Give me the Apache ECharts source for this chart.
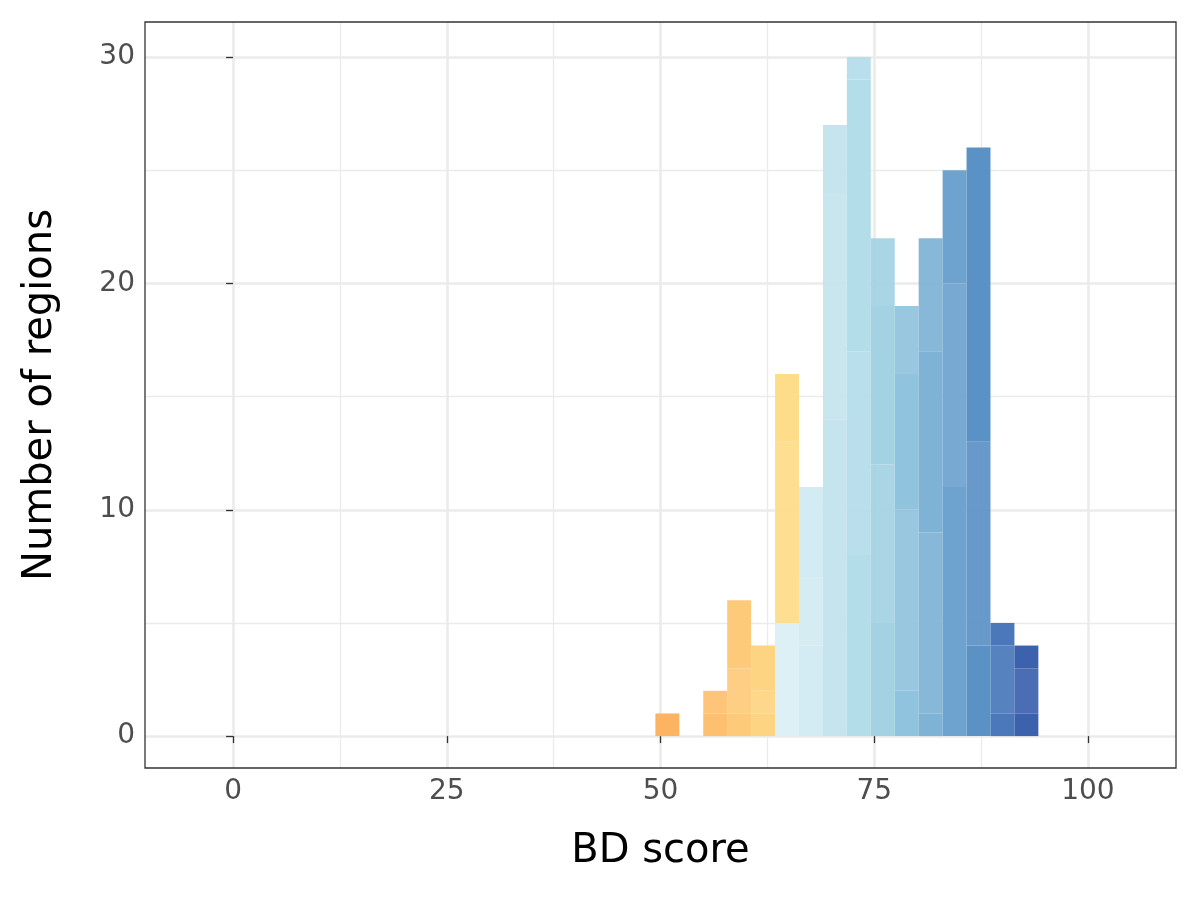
<!DOCTYPE html>
<html><head><meta charset="utf-8">
<script src="https://cdn.jsdelivr.net/npm/echarts@6/dist/echarts.min.js"></script>
<style>html,body{margin:0;background:#fff}#c{width:1200px;height:900px}</style>
</head><body><div id="c"></div>
<script>
// bins of width 2.8, stacked per-region segments (boundaries)
let binStart = [49.4, 55.0, 57.8, 60.6, 63.4, 66.2, 69.0, 71.8, 74.6, 77.4, 80.2, 83.0, 85.8, 88.6, 91.4];
let binWidth = 2.8;
let segTops = [
  [1],[1,2],[1,3,6],[1,2,4],[5,13,16],[4,7,11],[14,24,27],[8,17,29,30],
  [5,12,19,22],[2,10,16,19],[1,9,17,22],[11,20,25],[4,13,26],[1,4,5],[1,3,4]
];
let binColors = ['#fdb462','#fdc070','#fdca7a','#fdd482',['#ddf0f5','#fedd8a','#fedd8a'],'#d3ebf2','#c5e4ee','#b3dde9',
  '#a3d2e2','#90c3dd','#7fb3d5','#6ea3cf','#5b92c6','#4a78bb','#3d62ad'];
let xTicks = [0, 25, 50, 75, 100];
let yTicks = [0, 10, 20, 30];

let rects = [];
binStart.forEach((x0, i) => {
  let prev = 0;
  segTops[i].forEach((t, j) => {
    let c = Array.isArray(binColors[i]) ? binColors[i][j] : binColors[i];
    rects.push([x0, x0 + binWidth, prev, t, c, j]);
    prev = t;
  });
});
let gl = (v, w) => ({lineStyle: {color: '#ebebeb', width: w, type: 'solid'}, label: {show: false}, symbol: 'none', ...v});
let xLines = [], yLines = [];
for (let v = 0; v <= 100; v += 12.5) xLines.push(gl({xAxis: v}, v % 25 ? 1.3 : 2.6));
for (let v = 0; v <= 30; v += 5) yLines.push(gl({yAxis: v}, v % 10 ? 1.3 : 2.6));

let font = 'DejaVu Sans';
let chart = echarts.init(document.getElementById('c'));
chart.setOption({
  animation: false,
  grid: {left: 145, right: 24, top: 22, bottom: 132, show: true, borderColor: '#333', borderWidth: 1.3, z: 10},
  xAxis: {type: 'value', min: -10.3, max: 110.3, splitLine: {show: false},
    name: 'BD score', nameLocation: 'middle', nameGap: 64, nameTextStyle: {fontSize: 40, color: '#000', fontFamily: font},
    axisLine: {show: false},
    axisTick: {customValues: xTicks, length: 7, lineStyle: {color: '#333', width: 1.3}},
    axisLabel: {customValues: xTicks, fontSize: 28, color: '#4d4d4d', margin: 10, fontFamily: font}},
  yAxis: {type: 'value', min: -1.41, max: 31.55, splitLine: {show: false},
    name: 'Number of regions', nameLocation: 'middle', nameGap: 84, nameTextStyle: {fontSize: 40, color: '#000', fontFamily: font},
    axisLine: {show: false},
    axisTick: {show: true, customValues: yTicks, length: 7, lineStyle: {color: '#333', width: 1.3}},
    axisLabel: {customValues: yTicks, fontSize: 28, color: '#4d4d4d', margin: 10, fontFamily: font}},
  series: [
    {type: 'line', data: [], silent: true, z: 0, markLine: {silent: true, z: 0, symbol: 'none', animation: false, data: xLines.concat(yLines)}},
    {type: 'custom', z: 5, data: rects, renderItem: (params, api) => {
      let p0 = api.coord([api.value(0), api.value(3)]);
      let p1 = api.coord([api.value(1), api.value(2)]);
      let d = rects[params.dataIndex];
      return {type: 'rect', shape: {x: p0[0], y: p0[1], width: p1[0] - p0[0], height: p1[1] - p0[1]},
        style: {fill: d[4], opacity: d[5] % 2 ? 0.93 : 1, stroke: null}};
    }}
  ]
});
</script></body></html>
